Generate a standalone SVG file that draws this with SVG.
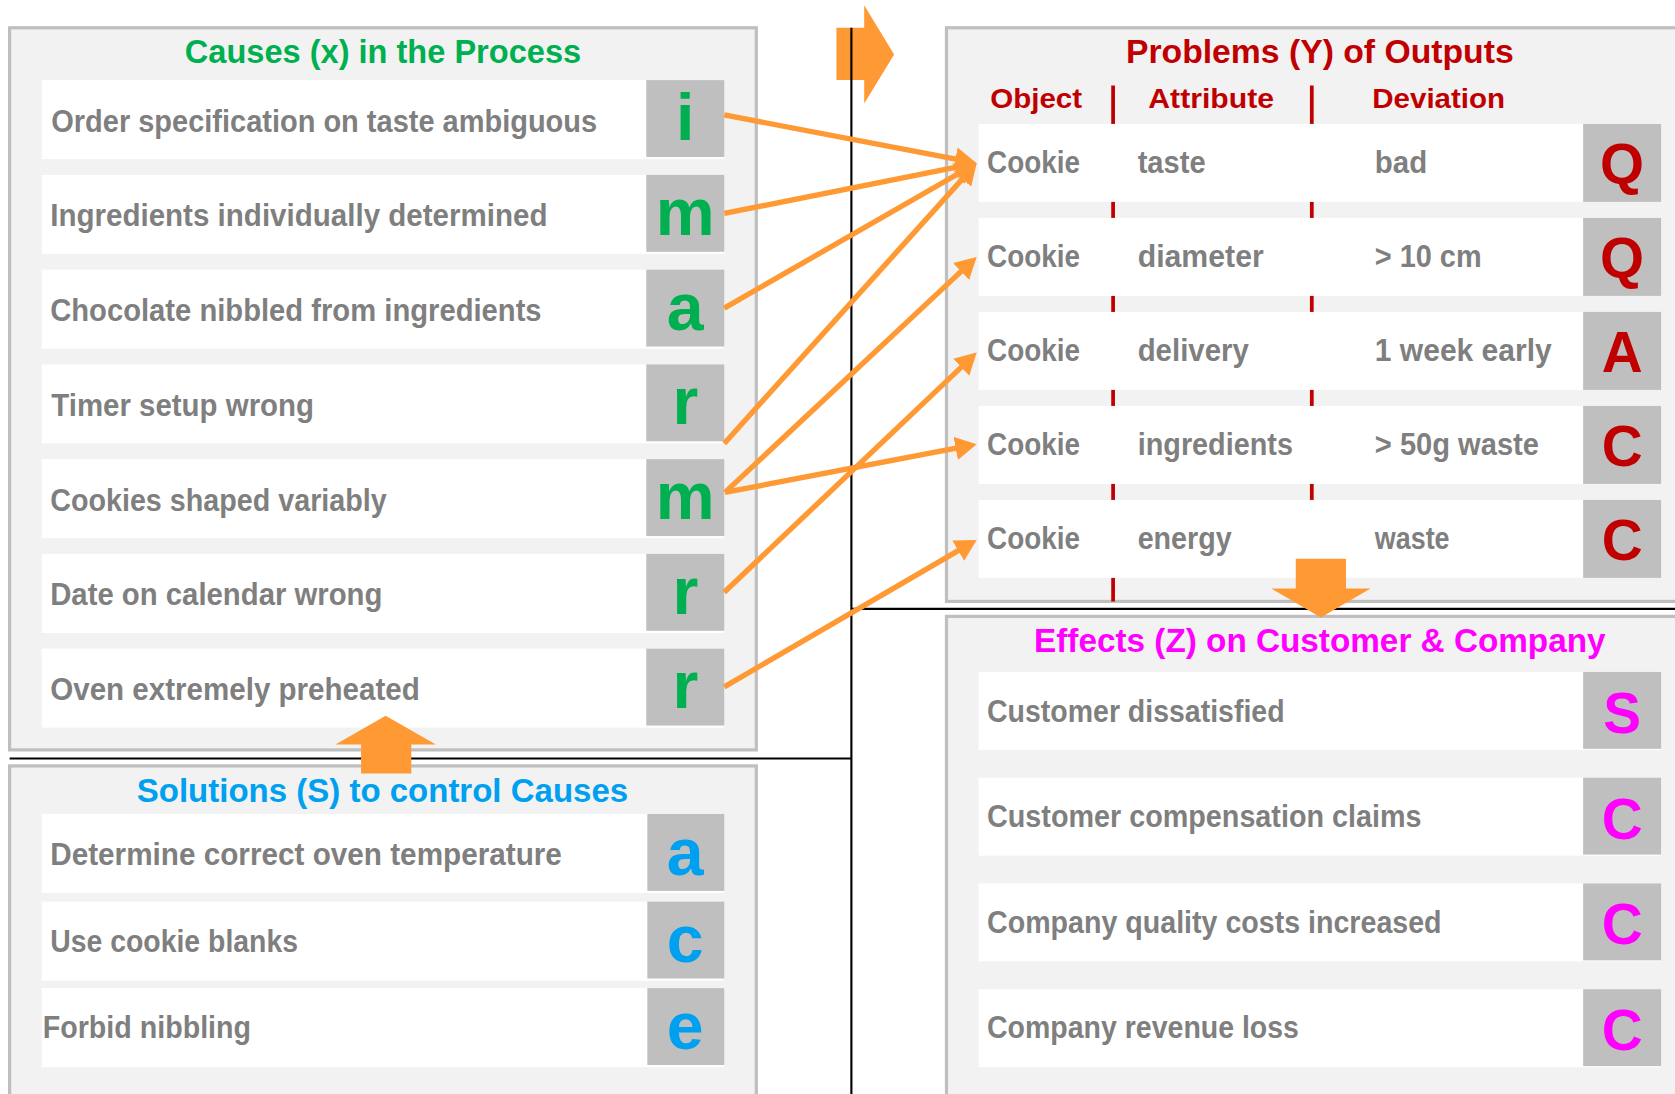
<svg xmlns="http://www.w3.org/2000/svg" width="1675" height="1094" viewBox="0 0 1675 1094">
<defs>
<style>
.panel{fill:#f2f2f2;stroke:#bfbfbf;stroke-width:3}
.row{fill:#ffffff}
.box{fill:#bfbfbf}
.t{font-family:"Liberation Sans",Arial,sans-serif;font-weight:bold;font-size:28.5px;fill:#7f7f7f}
.title{font-family:"Liberation Sans",Arial,sans-serif;font-weight:bold;font-size:31.5px}
.hdr{font-family:"Liberation Sans",Arial,sans-serif;font-weight:bold;font-size:26.5px;fill:#c00000}
.lc{font-family:"Liberation Sans",Arial,sans-serif;font-weight:bold;font-size:62px;text-anchor:middle}
.uc{font-family:"Liberation Sans",Arial,sans-serif;font-weight:bold;font-size:53px;text-anchor:middle}
.green{fill:#00b050}
.blue{fill:#00a0f0}
.red{fill:#c00000}
.mag{fill:#ff00ff}
.blk{stroke:#000;stroke-width:2;fill:none}
.col{stroke:#c00000;stroke-width:3.5}
.conn{stroke:#ff9933;stroke-width:5;fill:none;marker-end:url(#ah)}
.barrow{fill:#ff9933}
</style>
<marker id="ah" viewBox="0 0 20 22" refX="8" refY="11" markerWidth="20" markerHeight="22" markerUnits="userSpaceOnUse" orient="auto">
<path d="M0,0 L20,11 L0,22 z" fill="#ff9933"/>
</marker>
</defs>
<rect width="1675" height="1094" fill="#ffffff"/>
<g transform="scale(1.06824)">

<!-- Causes panel -->
<g id="panel-causes">
<rect class="panel" x="9" y="26" width="699" height="676"/>
<text class="title green" x="173" y="59.3" textLength="371" lengthAdjust="spacingAndGlyphs">Causes (x) in the Process</text>
</g>
<g id="cause-1"><rect class="row" x="39" y="75" width="639" height="74"/><rect class="box" x="605" y="75" width="73" height="72"/>
<text class="t" x="48" y="123.3" textLength="511" lengthAdjust="spacingAndGlyphs">Order specification on taste ambiguous</text><text class="lc green" x="641.5" y="131">i</text></g>
<g id="cause-2"><rect class="row" x="39" y="163.7" width="639" height="74"/><rect class="box" x="605" y="163.7" width="73" height="72"/>
<text class="t" x="47" y="212" textLength="465.5" lengthAdjust="spacingAndGlyphs">Ingredients individually determined</text><text class="lc green" x="641.5" y="220">m</text></g>
<g id="cause-3"><rect class="row" x="39" y="252.4" width="639" height="74"/><rect class="box" x="605" y="252.4" width="73" height="72"/>
<text class="t" x="47" y="300.7" textLength="460" lengthAdjust="spacingAndGlyphs">Chocolate nibbled from ingredients</text><text class="lc green" x="641.5" y="308.5">a</text></g>
<g id="cause-4"><rect class="row" x="39" y="341.1" width="639" height="74"/><rect class="box" x="605" y="341.1" width="73" height="72"/>
<text class="t" x="48" y="389.4" textLength="246" lengthAdjust="spacingAndGlyphs">Timer setup wrong</text><text class="lc green" x="641.5" y="397">r</text></g>
<g id="cause-5"><rect class="row" x="39" y="429.8" width="639" height="74"/><rect class="box" x="605" y="429.8" width="73" height="72"/>
<text class="t" x="47" y="478" textLength="315" lengthAdjust="spacingAndGlyphs">Cookies shaped variably</text><text class="lc green" x="641.5" y="486">m</text></g>
<g id="cause-6"><rect class="row" x="39" y="518.5" width="639" height="74"/><rect class="box" x="605" y="518.5" width="73" height="72"/>
<text class="t" x="47" y="566.8" textLength="311" lengthAdjust="spacingAndGlyphs">Date on calendar wrong</text><text class="lc green" x="641.5" y="574.5">r</text></g>
<g id="cause-7"><rect class="row" x="39" y="607.2" width="639" height="74"/><rect class="box" x="605" y="607.2" width="73" height="72"/>
<text class="t" x="47" y="655.5" textLength="346" lengthAdjust="spacingAndGlyphs">Oven extremely preheated</text><text class="lc green" x="641.5" y="663">r</text></g>

<!-- Solutions panel -->
<g id="panel-solutions">
<rect class="panel" x="9" y="717" width="699" height="340"/>
<text class="title blue" x="128" y="750.5" textLength="460" lengthAdjust="spacingAndGlyphs">Solutions (S) to control Causes</text>
</g>
<g id="sol-1"><rect class="row" x="39" y="762" width="639" height="74"/><rect class="box" x="606" y="762" width="72" height="72"/>
<text class="t" x="47" y="809.8" textLength="479" lengthAdjust="spacingAndGlyphs">Determine correct oven temperature</text><text class="lc blue" x="641.5" y="819">a</text></g>
<g id="sol-2"><rect class="row" x="39" y="844" width="639" height="74"/><rect class="box" x="606" y="844" width="72" height="72"/>
<text class="t" x="47" y="891" textLength="232" lengthAdjust="spacingAndGlyphs">Use cookie blanks</text><text class="lc blue" x="641.5" y="901">c</text></g>
<g id="sol-3"><rect class="row" x="39" y="925" width="639" height="74"/><rect class="box" x="606" y="925" width="72" height="72"/>
<text class="t" x="40" y="972" textLength="195" lengthAdjust="spacingAndGlyphs">Forbid nibbling</text><text class="lc blue" x="641.5" y="982">e</text></g>

<!-- Problems panel -->
<g id="panel-problems">
<rect class="panel" x="886" y="26" width="720" height="537"/>
<text class="title red" x="1054" y="59.3" textLength="363" lengthAdjust="spacingAndGlyphs">Problems (Y) of Outputs</text>
<text class="hdr" x="927" y="101.4" textLength="86" lengthAdjust="spacingAndGlyphs">Object</text>
<text class="hdr" x="1075" y="101.4" textLength="117.6" lengthAdjust="spacingAndGlyphs">Attribute</text>
<text class="hdr" x="1284.6" y="101.4" textLength="124.4" lengthAdjust="spacingAndGlyphs">Deviation</text>
<line class="col" x1="1042" y1="80" x2="1042" y2="563"/>
<line class="col" x1="1228" y1="80" x2="1228" y2="563"/>
</g>
<g id="prob-1"><rect class="row" x="916" y="116" width="639" height="73"/><rect class="box" x="1482" y="116" width="73" height="73"/>
<text class="t" x="924" y="162.3" textLength="87" lengthAdjust="spacingAndGlyphs">Cookie</text>
<text class="t" x="1065" y="162.3" textLength="63.6" lengthAdjust="spacingAndGlyphs">taste</text>
<text class="t" x="1287" y="162.3" textLength="49" lengthAdjust="spacingAndGlyphs">bad</text>
<text class="uc red" x="1518.5" y="172">Q</text></g>
<g id="prob-2"><rect class="row" x="916" y="204" width="639" height="73"/><rect class="box" x="1482" y="204" width="73" height="73"/>
<text class="t" x="924" y="250.3" textLength="87" lengthAdjust="spacingAndGlyphs">Cookie</text>
<text class="t" x="1065" y="250.3" textLength="118" lengthAdjust="spacingAndGlyphs">diameter</text>
<text class="t" x="1287" y="250.3" textLength="100" lengthAdjust="spacingAndGlyphs">&gt; 10 cm</text>
<text class="uc red" x="1518.5" y="260">Q</text></g>
<g id="prob-3"><rect class="row" x="916" y="292" width="639" height="73"/><rect class="box" x="1482" y="292" width="73" height="73"/>
<text class="t" x="924" y="338.3" textLength="87" lengthAdjust="spacingAndGlyphs">Cookie</text>
<text class="t" x="1065" y="338.3" textLength="104" lengthAdjust="spacingAndGlyphs">delivery</text>
<text class="t" x="1287" y="338.3" textLength="165.6" lengthAdjust="spacingAndGlyphs">1 week early</text>
<text class="uc red" x="1518.5" y="348">A</text></g>
<g id="prob-4"><rect class="row" x="916" y="380" width="639" height="73"/><rect class="box" x="1482" y="380" width="73" height="73"/>
<text class="t" x="924" y="426.3" textLength="87" lengthAdjust="spacingAndGlyphs">Cookie</text>
<text class="t" x="1065" y="426.3" textLength="145.4" lengthAdjust="spacingAndGlyphs">ingredients</text>
<text class="t" x="1287" y="426.3" textLength="153.7" lengthAdjust="spacingAndGlyphs">&gt; 50g waste</text>
<text class="uc red" x="1518.5" y="436">C</text></g>
<g id="prob-5"><rect class="row" x="916" y="468" width="639" height="73"/><rect class="box" x="1482" y="468" width="73" height="73"/>
<text class="t" x="924" y="514.3" textLength="87" lengthAdjust="spacingAndGlyphs">Cookie</text>
<text class="t" x="1065" y="514.3" textLength="88" lengthAdjust="spacingAndGlyphs">energy</text>
<text class="t" x="1287" y="514.3" textLength="70" lengthAdjust="spacingAndGlyphs">waste</text>
<text class="uc red" x="1518.5" y="524">C</text></g>

<!-- Effects panel -->
<g id="panel-effects">
<rect class="panel" x="886" y="577" width="720" height="480"/>
<text class="title mag" x="968" y="610" textLength="535" lengthAdjust="spacingAndGlyphs">Effects (Z) on Customer &amp; Company</text>
</g>
<g id="eff-1"><rect class="row" x="916" y="629" width="639" height="73"/><rect class="box" x="1482" y="629" width="73" height="72"/>
<text class="t" x="924" y="675.6" textLength="278.5" lengthAdjust="spacingAndGlyphs">Customer dissatisfied</text><text class="uc mag" x="1518.5" y="686">S</text></g>
<g id="eff-2"><rect class="row" x="916" y="728" width="639" height="73"/><rect class="box" x="1482" y="728" width="73" height="72"/>
<text class="t" x="924" y="774.5" textLength="406.7" lengthAdjust="spacingAndGlyphs">Customer compensation claims</text><text class="uc mag" x="1518.5" y="785">C</text></g>
<g id="eff-3"><rect class="row" x="916" y="827" width="639" height="73"/><rect class="box" x="1482" y="827" width="73" height="72"/>
<text class="t" x="924" y="873.7" textLength="425.5" lengthAdjust="spacingAndGlyphs">Company quality costs increased</text><text class="uc mag" x="1518.5" y="884">C</text></g>
<g id="eff-4"><rect class="row" x="916" y="926" width="639" height="73"/><rect class="box" x="1482" y="926" width="73" height="72"/>
<text class="t" x="924" y="972" textLength="292" lengthAdjust="spacingAndGlyphs">Company revenue loss</text><text class="uc mag" x="1518.5" y="983">C</text></g>

<!-- top right block arrow (under divider line) -->
<polygon id="arrow-right" class="barrow" points="783,26 809,26 809,5 837,51 809,97 809,75 783,75"/>

<!-- divider lines -->
<g id="dividers">
<line class="blk" x1="797" y1="26" x2="797" y2="1030"/>
<line class="blk" x1="9" y1="710" x2="797" y2="710"/>
<line class="blk" x1="797" y1="570" x2="1600" y2="570"/>
</g>

<!-- block arrows -->
<polygon id="arrow-up" class="barrow" points="361,670 408,697 385,697 385,724 338,724 338,697 314,697"/>
<polygon id="arrow-down" class="barrow" points="1213,523 1260,523 1260,551 1283,551 1236.5,578 1190,551 1213,551"/>

<!-- connectors -->
<g id="connectors">
<line class="conn" x1="678" y1="107.6" x2="902.2" y2="150.4"/>
<line class="conn" x1="678" y1="199.8" x2="902.5" y2="155.0"/>
<line class="conn" x1="678" y1="288.4" x2="903.9" y2="158.7"/>
<line class="conn" x1="678" y1="415.1" x2="906.3" y2="161.6"/>
<line class="conn" x1="678.7" y1="460.9" x2="905.5" y2="248.7"/>
<line class="conn" x1="678.7" y1="460.9" x2="902.5" y2="418.2"/>
<line class="conn" x1="678" y1="554.4" x2="905.6" y2="338.3"/>
<line class="conn" x1="678" y1="643.0" x2="903.9" y2="511.5"/>
</g>
</g>
</svg>
